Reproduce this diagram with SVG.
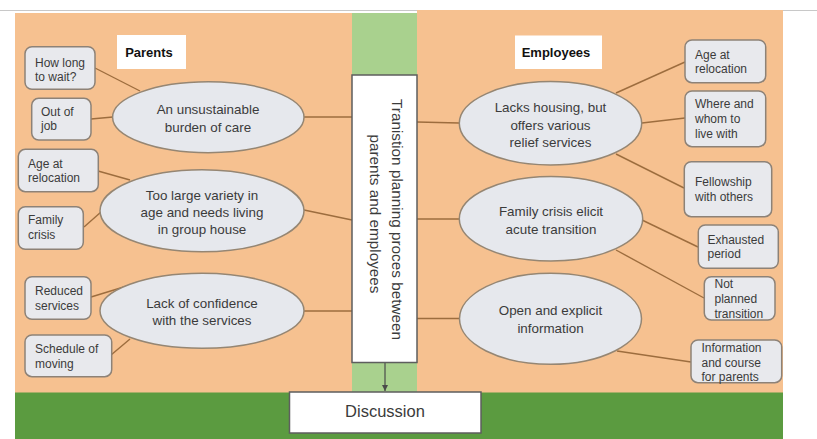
<svg xmlns="http://www.w3.org/2000/svg" width="817" height="439" viewBox="0 0 817 439">
<style>
text{font-family:"Liberation Sans",Arial,sans-serif;fill:#3b3b3b}
.el{fill:#e6e8ed;stroke:#958673;stroke-width:1.5}
.bx{fill:#e8e9ed;stroke:#8d8277;stroke-width:1.5}
.et{font-size:13.4px;text-anchor:middle}
.bt{font-size:12px}
.hd{font-size:13px;font-weight:bold;text-anchor:middle;fill:#111}
.cn{stroke:#9d6d3e;stroke-width:1.4;fill:none}
.wb{fill:#ffffff;stroke:#5e5e5e;stroke-width:1.5}
</style>
<defs>
<marker id="ah" markerWidth="8" markerHeight="8" refX="6" refY="3" orient="auto" markerUnits="userSpaceOnUse">
<path d="M0,0 L6,3 L0,6 Z" fill="#4a4a4a"/>
</marker>
</defs>
<rect x="0" y="0" width="817" height="439" fill="#ffffff"/>
<line x1="0" y1="10.5" x2="817" y2="10.5" stroke="#c8c8c8" stroke-width="1"/>
<g id="background">
<rect x="15" y="13" width="337" height="380" fill="#f6c190"/>
<rect x="417" y="10" width="366" height="383" fill="#f6c190"/>
<rect x="352" y="13" width="65" height="380" fill="#a9d18e"/>
<rect x="15" y="392.5" width="768" height="46.5" fill="#5b9b40"/>
</g>
<g id="connectors">
<line class="cn" x1="95" y1="68" x2="140" y2="91"/>
<line class="cn" x1="91" y1="119" x2="113" y2="117"/>
<line class="cn" x1="304" y1="117" x2="352" y2="117"/>
<line class="cn" x1="98" y1="171" x2="130" y2="180"/>
<line class="cn" x1="84" y1="227" x2="101" y2="212"/>
<line class="cn" x1="304" y1="210" x2="352" y2="220"/>
<line class="cn" x1="91" y1="297" x2="127" y2="286"/>
<line class="cn" x1="111" y1="355" x2="130" y2="339"/>
<line class="cn" x1="304" y1="311" x2="352" y2="311"/>
<line class="cn" x1="417" y1="122" x2="459" y2="123"/>
<line class="cn" x1="616" y1="93" x2="685" y2="62"/>
<line class="cn" x1="642" y1="123" x2="685" y2="118"/>
<line class="cn" x1="616" y1="154" x2="684" y2="188"/>
<line class="cn" x1="417" y1="219" x2="459" y2="219"/>
<line class="cn" x1="642" y1="220" x2="698" y2="247"/>
<line class="cn" x1="616" y1="250" x2="704" y2="298"/>
<line class="cn" x1="417" y1="318.5" x2="459" y2="318.5"/>
<line class="cn" x1="617" y1="351" x2="691" y2="362"/>
<line x1="385" y1="363" x2="385" y2="391" stroke="#4a4a4a" stroke-width="1.2" marker-end="url(#ah)"/>
</g>
<g id="parents-label">
<rect x="117" y="35" width="69" height="34" fill="#ffffff"/>
<text class="hd" x="149" y="57">Parents</text>
</g>
<g id="employees-label">
<rect x="515" y="35.5" width="87" height="33.5" fill="#ffffff"/>
<text class="hd" x="556" y="57">Employees</text>
</g>
<g id="process">
<rect class="wb" x="352" y="75" width="65" height="287.5"/>
<text font-size="15.3" text-anchor="middle" transform="translate(392,219.5) rotate(90)">Tranistion planning proces between</text>
<text font-size="15.3" text-anchor="middle" transform="translate(370,214) rotate(90)">parents and employees</text>
</g>
<g id="discussion">
<rect class="wb" x="289.5" y="392" width="191.5" height="41"/>
<text x="385" y="417" font-size="16.5" text-anchor="middle">Discussion</text>
</g>
<g id="p-burden">
<ellipse class="el" cx="208.3" cy="117.2" rx="95.7" ry="35.5"/>
<text class="et" x="208" y="114">An unsustainable</text>
<text class="et" x="208" y="131.5">burden of care</text>
</g>
<g id="p-variety">
<ellipse class="el" cx="202" cy="210.8" rx="102" ry="41"/>
<text class="et" x="202" y="199.5">Too large variety in</text>
<text class="et" x="202" y="216.8">age and needs living</text>
<text class="et" x="202" y="234">in group house</text>
</g>
<g id="p-confidence">
<ellipse class="el" cx="202" cy="310.8" rx="102" ry="37.5"/>
<text class="et" x="202" y="307.5">Lack of confidence</text>
<text class="et" x="202" y="325">with the services</text>
</g>
<g id="e-housing">
<ellipse class="el" cx="550.5" cy="123.3" rx="91.2" ry="41.7"/>
<text class="et" x="550.5" y="112">Lacks housing, but</text>
<text class="et" x="550.5" y="129.5">offers various</text>
<text class="et" x="550.5" y="147">relief services</text>
</g>
<g id="e-crisis">
<ellipse class="el" cx="551" cy="218.8" rx="91.7" ry="42.2"/>
<text class="et" x="551" y="216">Family crisis elicit</text>
<text class="et" x="551" y="233.5">acute transition</text>
</g>
<g id="e-info">
<ellipse class="el" cx="550.5" cy="318.8" rx="91" ry="45.5"/>
<text class="et" x="550.5" y="315">Open and explicit</text>
<text class="et" x="550.5" y="332.5">information</text>
</g>
<g id="b-howlong">
<rect class="bx" x="25" y="46.7" width="70" height="42.6" rx="7"/>
<text class="bt" x="35" y="66.5">How long</text>
<text class="bt" x="35" y="80.5">to wait?</text>
</g>
<g id="b-outofjob">
<rect class="bx" x="31.7" y="98.3" width="59.3" height="41.7" rx="7"/>
<text class="bt" x="41" y="116">Out of</text>
<text class="bt" x="41" y="130">job</text>
</g>
<g id="b-age-left">
<rect class="bx" x="18.3" y="149.3" width="80" height="42.4" rx="7"/>
<text class="bt" x="28" y="168">Age at</text>
<text class="bt" x="28" y="182">relocation</text>
</g>
<g id="b-family">
<rect class="bx" x="18.3" y="206.7" width="65" height="42.6" rx="7"/>
<text class="bt" x="28" y="224">Family</text>
<text class="bt" x="28" y="238.5">crisis</text>
</g>
<g id="b-reduced">
<rect class="bx" x="25" y="276.7" width="66" height="42.6" rx="7"/>
<text class="bt" x="35" y="295">Reduced</text>
<text class="bt" x="35" y="309.5">services</text>
</g>
<g id="b-schedule">
<rect class="bx" x="25" y="335" width="86.7" height="41.7" rx="7"/>
<text class="bt" x="35" y="353">Schedule of</text>
<text class="bt" x="35" y="367.5">moving</text>
</g>
<g id="b-age-right">
<rect class="bx" x="685" y="40" width="80.7" height="42.7" rx="7"/>
<text class="bt" x="695" y="58.5">Age at</text>
<text class="bt" x="695" y="73">relocation</text>
</g>
<g id="b-where">
<rect class="bx" x="685" y="91" width="80.7" height="55.7" rx="7"/>
<text class="bt" x="695" y="107.5">Where and</text>
<text class="bt" x="695" y="122.5">whom to</text>
<text class="bt" x="695" y="137.5">live with</text>
</g>
<g id="b-fellowship">
<rect class="bx" x="684.3" y="161.7" width="87.4" height="55" rx="7"/>
<text class="bt" x="695" y="186">Fellowship</text>
<text class="bt" x="695" y="200.5">with others</text>
</g>
<g id="b-exhausted">
<rect class="bx" x="698.3" y="225" width="80" height="43.3" rx="7"/>
<text class="bt" x="707.5" y="243.5">Exhausted</text>
<text class="bt" x="707.5" y="258">period</text>
</g>
<g id="b-notplanned">
<rect class="bx" x="704.3" y="276.7" width="70.7" height="43.3" rx="7"/>
<text class="bt" x="714.5" y="287.5">Not</text>
<text class="bt" x="714.5" y="302.5">planned</text>
<text class="bt" x="714.5" y="317.5">transition</text>
</g>
<g id="b-information">
<rect class="bx" x="691" y="340" width="90.7" height="42.7" rx="7"/>
<text class="bt" x="701.5" y="352">Information</text>
<text class="bt" x="701.5" y="366.5">and course</text>
<text class="bt" x="701.5" y="381">for parents</text>
</g>
</svg>
